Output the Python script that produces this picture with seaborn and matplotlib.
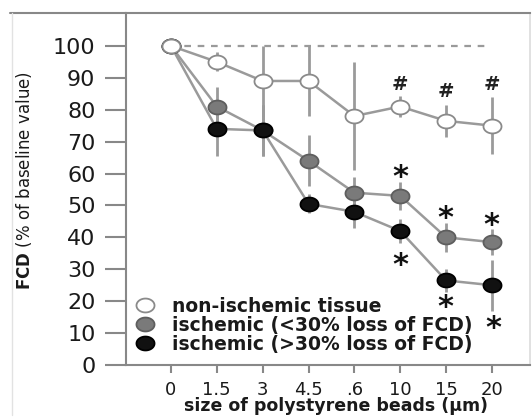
import numpy as np
import pandas as pd
import matplotlib
matplotlib.use("Agg")
import matplotlib.pyplot as plt
from matplotlib.path import Path
from matplotlib.lines import Line2D
import seaborn as sns

# ---- data ----
sizes = ["0", "1.5", "3", "4.5", ".6", "10", "15", "20"]
non_ischemic = [100, 95, 89, 89, 78, 81, 76.5, 75]
non_ischemic_err = [0, 3, 11, 11, 17, 3.3, 5, 9]
ischemic_low = [100, 81, 73.5, 64, 54, 53, 40, 38.5]
ischemic_low_err = [0, 6, 8, 8, 5, 4.5, 4.5, 4]
ischemic_high = [100, 74, 73.5, 50.5, 48, 42, 26.5, 25]
ischemic_high_err = [0, 8.5, 8, 3, 5, 3.7, 3.5, 8]
series_labels = ["non-ischemic tissue",
                 "ischemic (<30% loss of FCD)",
                 "ischemic (>30% loss of FCD)"]
hash_idx = [5, 6, 7]
hash_y = [88.5, 86, 88.5]
star_idx = [5, 5, 6, 6, 7, 7.04]
star_y = [60.5, 33, 47.5, 19.8, 45.5, 13]
yticks = [0, 10, 20, 30, 40, 50, 60, 70, 80, 90, 100]

sns.set_theme(style="ticks")
plt.rcParams["font.family"] = ["DejaVu Sans"]
plt.rcParams["mathtext.fontset"] = "dejavusans"

pos = np.arange(len(sizes))
df = pd.DataFrame({
    "pos": np.concatenate([pos, pos, pos]),
    "value": non_ischemic + ischemic_low + ischemic_high,
    "err": non_ischemic_err + ischemic_low_err + ischemic_high_err,
    "group": np.repeat(series_labels, len(sizes)),
})

t = np.linspace(0, 2 * np.pi, 73)
ellipse = Path(np.column_stack([1.3 * np.cos(t), np.sin(t)]), closed=True)

fig = plt.figure(figsize=(5.32, 4.19), dpi=100)
ax = fig.add_axes([126 / 532, 54 / 419, 404 / 532, 352 / 419])

styles = {
    series_labels[0]: dict(mfc="white", mec="#8a8a8a", z=6),
    series_labels[1]: dict(mfc="#7a7a7a", mec="#5e5e5e", z=4),
    series_labels[2]: dict(mfc="#111111", mec="#000000", z=5),
}

ax.hlines(100, 0, 6.9, colors="#9a9a9a", linestyles=(0, (3, 3)), lw=1.6, zorder=1)

for lab in [series_labels[1], series_labels[2], series_labels[0]]:
    sub = df[df["group"] == lab]
    st = styles[lab]
    ax.errorbar(sub["pos"], sub["value"], yerr=sub["err"], fmt="none",
                ecolor="#9a9a9a", elinewidth=2, capsize=0, zorder=2)
    sns.lineplot(data=sub, x="pos", y="value", ax=ax, color="#9a9a9a",
                 lw=1.8, marker=ellipse, ms=13, mfc=st["mfc"], mec=st["mec"],
                 mew=1.3, zorder=st["z"], legend=False, errorbar=None)

for xi, yi in zip(hash_idx, hash_y):
    ax.annotate("#", xy=(xi, yi), xytext=(0, -5), textcoords="offset points",
                ha="center", va="baseline", fontsize=14, fontweight="bold",
                color="#222222")
for xi, yi in zip(star_idx, star_y):
    ax.annotate(r"$\mathbf{*}$", xy=(xi, yi), xytext=(0, -2.5),
                textcoords="offset points", ha="center", va="center",
                fontsize=22, color="#111111")

ax.set_xlim(-0.98, 7.83)
ax.set_ylim(0, 110.3)
ax.set_xticks(pos)
ax.set_xticklabels(sizes)
ax.set_yticks(yticks)
ax.set_yticklabels([str(v) for v in yticks])
ax.tick_params(axis="y", length=15, width=1.5, color="#888888",
               labelsize=16, pad=7, labelcolor="#1a1a1a")
ax.tick_params(axis="x", length=6, width=1.5, color="#888888",
               labelsize=13, pad=5.5, labelcolor="#1a1a1a")

for side in ["left", "bottom", "top"]:
    ax.spines[side].set_color("#888888")
    ax.spines[side].set_linewidth(1.5)
    ax.spines[side].set_visible(True)
ax.spines["right"].set_visible(True)
ax.spines["right"].set_color("#dddddd")

ax.set_xlabel("size of polystyrene beads (μm)", fontsize=12.5, fontweight="bold",
              color="#1a1a1a")
ax.xaxis.label.set_va("baseline")
ax.xaxis.set_label_coords(0.5186, -0.132)
ax.set_ylabel(r"$\mathbf{FCD}$ (% of baseline value)", fontsize=12,
              color="#1a1a1a")
ax.yaxis.label.set_va("center")
ax.yaxis.set_label_coords(-0.2525, 0.5227)

handles = [Line2D([], [], ls="none", marker=ellipse, ms=13,
                  mfc=styles[l]["mfc"], mec=styles[l]["mec"], mew=1.3)
           for l in series_labels]
ax.legend(handles, series_labels, loc="center left",
          bbox_to_anchor=(0.0255, 0.1136), frameon=False,
          prop={"weight": "bold", "size": 13.5}, labelcolor="#1a1a1a",
          handlelength=0.95, handletextpad=0.95, labelspacing=0.0,
          borderpad=0, borderaxespad=0)

fig.add_artist(Line2D([10 / 532, 126 / 532], [1 - 13 / 419] * 2,
                      transform=fig.transFigure, color="#888888", lw=1.5))
fig.add_artist(Line2D([12 / 532, 12 / 532], [1 - 13 / 419, 1 - 415 / 419],
                      transform=fig.transFigure, color="#e2e2e2", lw=1.0))

fig.savefig("out.png", dpi=100)
